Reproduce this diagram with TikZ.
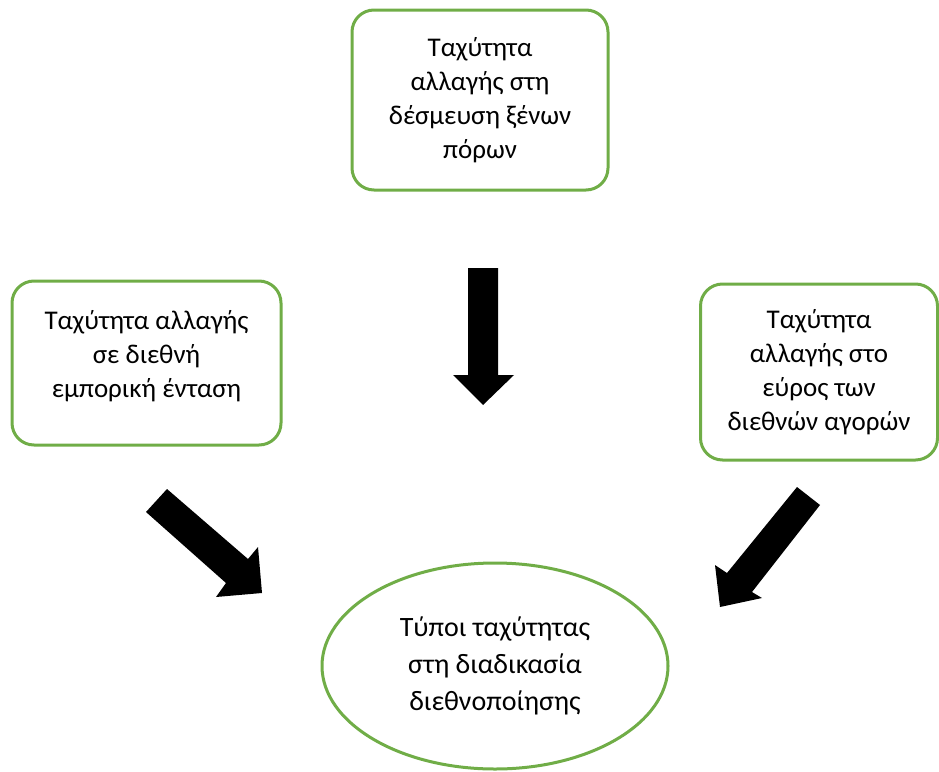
\documentclass[tikz,border=0pt]{standalone}
\usepackage{fontspec}
\setmainfont{Carlito}
\usetikzlibrary{shapes.geometric}
\definecolor{grn}{HTML}{70AD47}
\tikzset{
  box/.style={draw=grn, line width=3pt, rounded corners=22pt, align=center,
    font=\fontsize{27}{34}\selectfont, inner sep=0pt},
  txt/.style={align=center, font=\fontsize{27}{34}\selectfont, inner sep=0pt},
  oval/.style={ellipse, draw=grn, line width=3pt, align=center,
    font=\fontsize{28}{37}\selectfont, inner sep=0pt},
  blk/.style={fill=black, draw=none}
}
\begin{document}
\begin{tikzpicture}[x=1pt,y=-1pt]
\useasboundingbox (0,0) rectangle (939,771);
\node[box, minimum width=256pt, minimum height=180pt] (top) at (480,100)
  {Ταχύτητα\\αλλαγής στη\\δέσμευση ξένων\\πόρων};
\node[box, minimum width=269pt, minimum height=164pt] (left) at (146.5,363) {};
\node[txt] (lefttext) at (146.5,356)
  {Ταχύτητα αλλαγής\\σε διεθνή\\εμπορική ένταση};
\node[box, minimum width=237pt, minimum height=176pt] (right) at (819,372)
  {Ταχύτητα\\αλλαγής στο\\εύρος των\\διεθνών αγορών};
\node[oval, minimum width=346pt, minimum height=206pt] (res) at (495,666)
  {Τύποι ταχύτητας\\στη διαδικασία\\διεθνοποίησης};
% block arrows
\fill[blk] (468,268) -- (498,268) -- (498,375) -- (514,375) -- (483,405)
  -- (453,375) -- (468,375) -- cycle;
\fill[blk] (146,512) -- (167,489) -- (248,559) -- (258,547) -- (262,593)
  -- (216,597) -- (226,583) -- cycle;
\fill[blk] (797,487) -- (820,505) -- (752,592) -- (762,598) -- (720,607)
  -- (715,565) -- (727,573) -- cycle;
\end{tikzpicture}
\end{document}
